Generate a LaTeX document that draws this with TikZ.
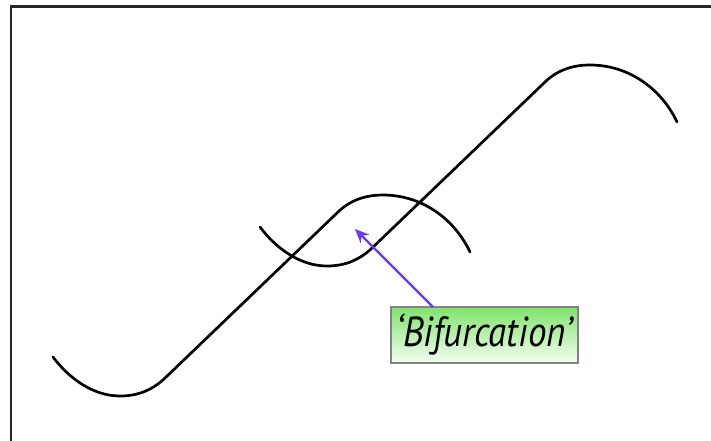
\documentclass[tikz,border=0pt]{standalone}
\usepackage{fontspec}
\newfontfamily\labelfont[FakeStretch=0.88]{PT Sans}
\usetikzlibrary{arrows.meta}
\definecolor{arrowblue}{RGB}{104,56,244}
\definecolor{boxtop}{RGB}{128,226,108}
\definecolor{boxbottom}{RGB}{244,255,240}
\definecolor{boxedge}{RGB}{130,130,130}
\tikzset{
  branch/.style={line width=2.7pt, line cap=round, black},
  frameline/.style={line width=2.2pt, black!85},
  labelbox/.style={draw=boxedge, line width=1.2pt, top color=boxtop, bottom color=boxbottom,
    minimum width=187pt, minimum height=56pt, inner sep=0pt,
    font=\labelfont\itshape\fontsize{42}{44}\selectfont},
  pointer/.style={arrowblue, line width=2.4pt, -{Stealth[length=14pt,width=12pt]}}
}
\begin{document}
\begin{tikzpicture}[x=1pt,y=-1pt]
\useasboundingbox (0,0) rectangle (711,441);
% frame (top and left edges)
\draw[frameline] (711,6.5) -- (11,6.5) -- (11,441);
% first S-shaped branch
\draw[branch] (53,357) .. controls (68,377) and (92,396) .. (120,396)
  .. controls (138,396) and (152,390) .. (164,379)
  -- (337,213)
  .. controls (349,201) and (364,195) .. (383,195)
  .. controls (421,195) and (454,218) .. (470,252);
% second S-shaped branch (shifted copy)
\begin{scope}[shift={(207,-130)}]
\draw[branch] (53,357) .. controls (68,377) and (92,396) .. (120,396)
  .. controls (138,396) and (152,390) .. (164,379)
  -- (337,213)
  .. controls (349,201) and (364,195) .. (383,195)
  .. controls (421,195) and (454,218) .. (470,252);
\end{scope}
% label and pointer
\node[labelbox] (lbl) at (484.5,335) {‘Bifurcation’};
\coordinate (tail) at (433,307);
\coordinate (tip) at (355,229);
\draw[pointer] (tail) -- (tip);
\end{tikzpicture}
\end{document}
